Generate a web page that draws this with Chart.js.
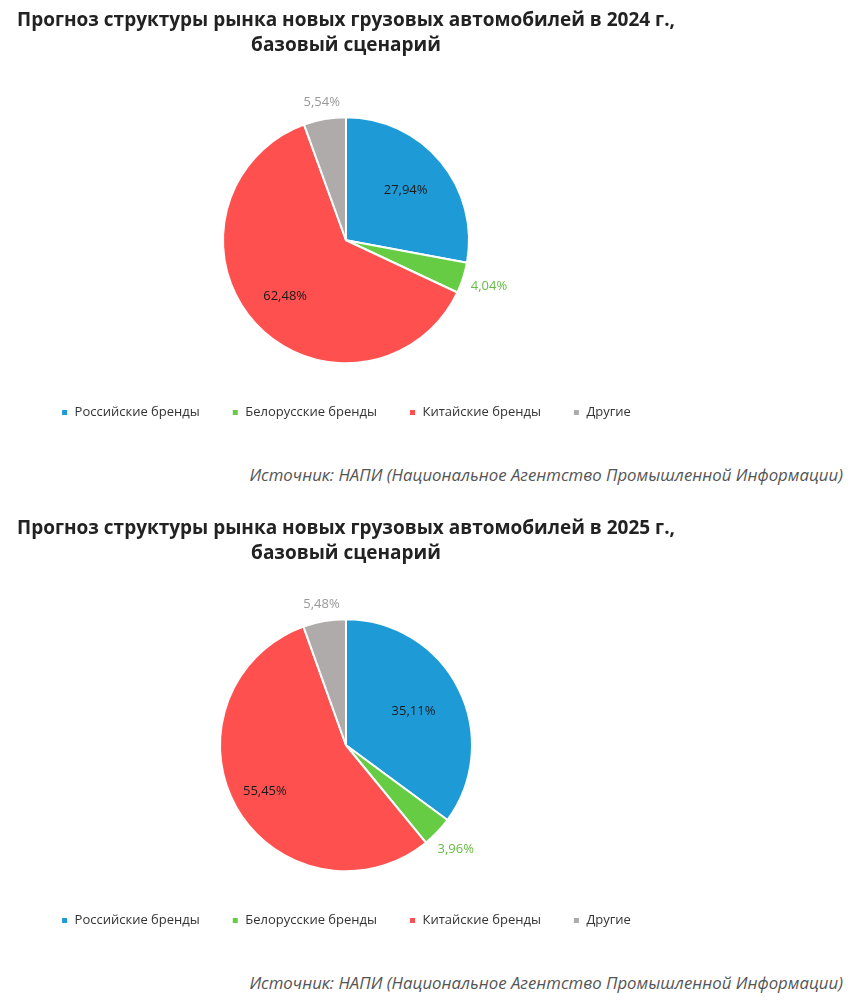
<!DOCTYPE html>
<html lang="ru">

<head>
    <meta charset="UTF-8">
    <script src="https://cdn.jsdelivr.net/npm/chart.js"></script>
    <title>Прогноз структуры рынка</title>
    <style>
        body {
            margin: 0;
            background: #fff;
            width: 850px;
        }

        .grafico {
            position: relative;
            width: 692px;
            height: 429px;
        }

        .fonte {
            font-family: 'Open Sans', sans-serif;
            font-style: italic;
            font-size: 16.8px;
            color: #555;
            text-align: right;
            padding-right: 7px;
            height: 20px;
            line-height: 20px;
            margin-top: 36px;
        }

        #bloco2 {
            margin-top: 23px;
        }
    </style>
</head>

<body>
    <div class="grafico"><canvas id="pizza2024"></canvas></div>
    <div class="fonte">Источник: НАПИ (Национальное Агентство Промышленной Информации)</div>

    <div class="grafico" id="bloco2"><canvas id="pizza2025"></canvas></div>
    <div class="fonte">Источник: НАПИ (Национальное Агентство Промышленной Информации)</div>

    <script>
        // dados
        const marcas = ['Российские бренды', 'Белорусские бренды', 'Китайские бренды', 'Другие'];
        const share2024 = [27.94, 4.04, 62.48, 5.54];
        const share2025 = [35.11, 3.96, 55.45, 5.48];
        const cores = ['#1e9bd7', '#66cc44', '#ff5050', '#b0abab'];
        const coresRotulo = ['#1a1a1a', '#66bb44', '#1a1a1a', '#999'];

        // rótulos de porcentagem (dentro das fatias grandes, fora das pequenas)
        const rotulosPizza = {
            id: 'rotulosPizza',
            afterDatasetsDraw(chart) {
                const ctx = chart.ctx;
                const meta = chart.getDatasetMeta(0);
                const valores = chart.data.datasets[0].data;
                const fator = chart.options.plugins.rotulosPizza.fator;
                ctx.save();
                ctx.font = '13px "Open Sans", sans-serif';
                ctx.textAlign = 'center';
                ctx.textBaseline = 'middle';
                meta.data.forEach((arco, i) => {
                    const p = arco.getProps(['x', 'y', 'startAngle', 'endAngle', 'outerRadius'], true);
                    const meio = (p.startAngle + p.endAngle) / 2;
                    const texto = valores[i].toFixed(2).replace('.', ',') + '%';
                    const w = ctx.measureText(texto).width;
                    let r;
                    if (valores[i] > 10) {
                        r = p.outerRadius * fator[i];
                    } else {
                        r = p.outerRadius + 8 + Math.abs(Math.cos(meio)) * w / 2 + Math.abs(Math.sin(meio)) * 6;
                    }
                    ctx.fillStyle = coresRotulo[i];
                    ctx.fillText(texto, p.x + Math.cos(meio) * r, p.y + Math.sin(meio) * r);
                });
                ctx.restore();
            }
        };

        function criarPizza(idCanvas, ano, valores, raio, espacoTitulo, fator) {
            return new Chart(document.getElementById(idCanvas), {
                type: 'pie',
                data: {
                    labels: marcas,
                    datasets: [{
                        data: valores,
                        backgroundColor: cores,
                        borderColor: '#fff',
                        borderWidth: 2,
                        radius: raio
                    }]
                },
                plugins: [rotulosPizza],
                options: {
                    responsive: true,
                    maintainAspectRatio: false,
                    animation: false,
                    plugins: {
                        rotulosPizza: { fator: fator },
                        tooltip: { enabled: false },
                        title: {
                            display: true,
                            text: ['Прогноз структуры рынка новых грузовых автомобилей в ' + ano + ' г.,', 'базовый сценарий'],
                            color: '#222',
                            font: {
                                family: '"Open Sans", sans-serif',
                                size: 19,
                                weight: 'bold',
                                lineHeight: 1.316
                            },
                            padding: { top: 8, bottom: espacoTitulo }
                        },
                        legend: {
                            position: 'bottom',
                            labels: {
                                color: '#333',
                                boxWidth: 7,
                                boxHeight: 7,
                                padding: 32,
                                font: {
                                    family: '"Open Sans", sans-serif',
                                    size: 13
                                }
                            }
                        }
                    }
                }
            });
        }

        criarPizza('pizza2024', 2024, share2024, 123, 48.5, [0.63, 0, 0.67, 0]);
        criarPizza('pizza2025', 2025, share2025, 126, 42.5, [0.6, 0, 0.74, 0]);
    </script>
</body>

</html>
